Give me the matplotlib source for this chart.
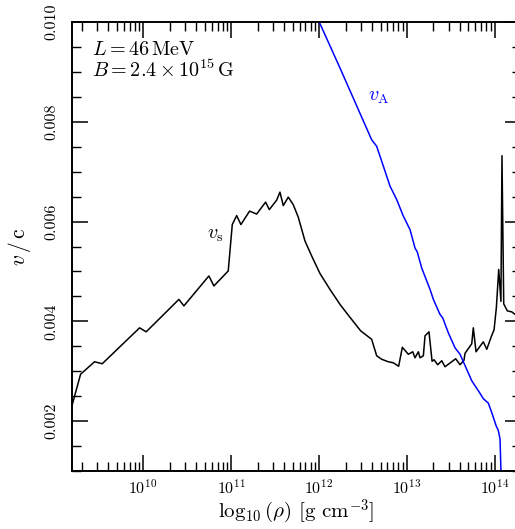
import numpy as np
import matplotlib
matplotlib.use("Agg")
import matplotlib.pyplot as plt
from matplotlib.ticker import MultipleLocator, FormatStrFormatter, LogLocator

plt.rcParams['font.family'] = 'serif'
plt.rcParams['font.serif'] = ['cmr10']
plt.rcParams['mathtext.fontset'] = 'cm'
plt.rcParams['axes.formatter.use_mathtext'] = True
plt.rcParams['axes.unicode_minus'] = False

# sound speed v_s (log10 rho, v/c)
log_rho_s = [9.17, 9.288, 9.447, 9.534, 9.959, 10.034, 10.406, 10.463, 10.747, 10.804,
             10.967, 11.013, 11.063, 11.111, 11.21, 11.29, 11.392, 11.434, 11.518, 11.555,
             11.593, 11.65, 11.706, 11.763, 11.84, 11.916, 12.01, 12.124, 12.238, 12.343,
             12.473, 12.598, 12.655, 12.712, 12.787, 12.844, 12.905, 12.947, 13.015, 13.065,
             13.091, 13.129, 13.148, 13.186, 13.205, 13.25, 13.285, 13.307, 13.349, 13.395,
             13.432, 13.554, 13.603, 13.648, 13.66, 13.736, 13.754, 13.785, 13.868, 13.907,
             13.964, 13.99, 14.016, 14.043, 14.068, 14.08, 14.1, 14.141, 14.191, 14.229, 14.3]
v_s = [0.00218, 0.00294, 0.00319, 0.00315, 0.00387, 0.00379, 0.00444, 0.00431, 0.00491, 0.00471,
       0.00501, 0.00594, 0.00612, 0.00594, 0.00621, 0.00615, 0.00639, 0.00624, 0.00643, 0.00659,
       0.00632, 0.00649, 0.00634, 0.00609, 0.00561, 0.00531, 0.00496, 0.00464, 0.00434, 0.00410,
       0.00381, 0.00364, 0.00331, 0.00324, 0.00319, 0.00317, 0.00310, 0.00348, 0.00334, 0.00339,
       0.00327, 0.00339, 0.00327, 0.00331, 0.00371, 0.00379, 0.00320, 0.00323, 0.00313, 0.00321,
       0.00309, 0.00325, 0.00313, 0.00322, 0.00336, 0.00355, 0.00387, 0.00339, 0.00359, 0.00344,
       0.00372, 0.00383, 0.00427, 0.00504, 0.00440, 0.00732, 0.00435, 0.00421, 0.00419, 0.00414, 0.00410]

# Alfven speed v_A
log_rho_a = [11.95, 12.002, 12.24, 12.598, 12.655, 12.807, 12.883, 12.958, 13.034, 13.091,
             13.117, 13.167, 13.262, 13.3, 13.375, 13.406, 13.47, 13.546, 13.603, 13.641,
             13.736, 13.811, 13.868, 13.925, 13.964, 14.013, 14.039, 14.058, 14.07]
v_a = [0.0102, 0.0100, 0.00907, 0.00764, 0.00751, 0.00671, 0.00644, 0.00611, 0.00584, 0.00547,
       0.00539, 0.00507, 0.00464, 0.00444, 0.00414, 0.00407, 0.00377, 0.00347, 0.00334, 0.00319,
       0.00281, 0.00261, 0.00245, 0.00236, 0.00217, 0.00191, 0.00181, 0.00164, 0.0009]

rho_s = 10 ** np.array(log_rho_s)
rho_a = 10 ** np.array(log_rho_a)

fig = plt.figure(figsize=(5.15, 5.29), dpi=100)
ax = fig.add_axes([0.1398, 0.1096, 0.8719, 0.8488])

ax.plot(rho_s, v_s, color='black', lw=1.1)
ax.plot(rho_a, v_a, color='#0000ff', lw=1.1)

ax.set_xscale('log')
ax.set_xlim(1.55e9, 1.98e14)
ax.set_ylim(0.001, 0.010)

ax.yaxis.set_major_locator(MultipleLocator(0.002))
ax.yaxis.set_minor_locator(MultipleLocator(0.0005))
ax.yaxis.set_major_formatter(FormatStrFormatter('%.3f'))
ax.xaxis.set_major_locator(LogLocator(base=10))
ax.xaxis.set_minor_locator(LogLocator(base=10, subs=np.arange(2, 10)))

ax.tick_params(which='both', direction='in', top=True, right=True)
ax.tick_params(which='major', length=11.5, width=1.1, labelsize=11.5)
ax.tick_params(axis='x', which='major', pad=5)
ax.tick_params(axis='y', which='major', pad=10)
ax.tick_params(which='minor', length=6.5, width=1.0)
for lab in ax.get_yticklabels():
    lab.set_rotation(90)
    lab.set_va('center')
for sp in ax.spines.values():
    sp.set_linewidth(1.4)

ax.set_xlabel(r'$\log_{10}(\rho)$ [g cm$^{-3}$]', fontsize=15, labelpad=1)
ax.set_ylabel(r'$v\,/\,\mathrm{c}$', fontsize=15.5, labelpad=8)

ax.text(0.045, 0.926, r'$L = 46\,\mathrm{MeV}$', transform=ax.transAxes, fontsize=14.5)
ax.text(0.045, 0.877, r'$B = 2.4 \times 10^{15}\,\mathrm{G}$', transform=ax.transAxes, fontsize=14.5)
ax.text(3.6e12, 0.0085, r'$v_\mathrm{A}$', color='#0000ff', fontsize=14.5, va='center')
ax.text(5.3e10, 0.00574, r'$v_\mathrm{s}$', color='black', fontsize=14.5, va='center')

fig.savefig('out.png', dpi=100)
